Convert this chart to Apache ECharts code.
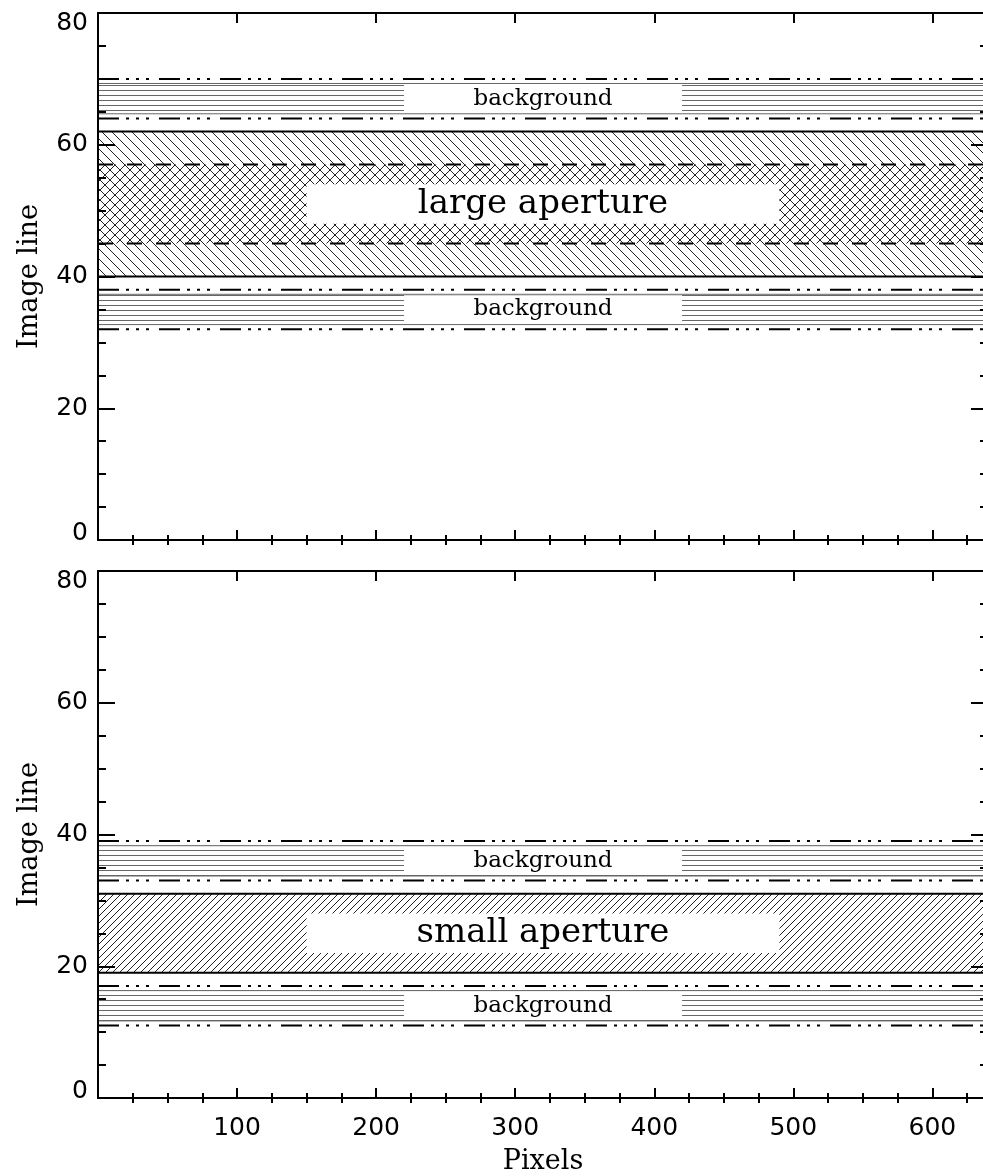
<!DOCTYPE html>
<html><head><meta charset="utf-8">
<script src="https://cdn.jsdelivr.net/npm/echarts@6/dist/echarts.min.js"></script>
<style>html,body{margin:0;padding:0;background:#fff}#chart{width:983px;height:1176px}</style>
</head><body><div id="chart"></div>
<script>
// ---------------- data ----------------
const xRange = [0, 640];
const yRange = [0, 80];
const xMajorTicks = [0, 100, 200, 300, 400, 500, 600];
const xTickLabels = [100, 200, 300, 400, 500, 600];
const yTickLabels = [0, 20, 40, 60, 80];

const topBackground = [[32, 38], [64, 70]];
const topAperture = [[40, 62]];
const topApertureCore = [[45, 57]];
const topApertureName = 'large aperture';

const bottomBackground = [[11, 17], [33, 39]];
const bottomAperture = [[19, 31]];
const bottomApertureName = 'small aperture';
const backgroundName = 'background';

const xTitle = 'Pixels';
const yTitle = 'Image line';

// ---------------- layout / style ----------------
const apertureBoxX = [150, 490];
const apertureBoxHalf = 3;
const backgroundBoxX = [220, 420];
const backgroundInset = 0.7;
const xMinorTicks = [];
xMajorTicks.forEach(m => [25, 50, 75].forEach(o => { if (m + o < xRange[1]) xMinorTicks.push(m + o); }));

const DASH_DOT3 = [21, 7, 3, 7, 3, 7, 3, 10];
const DASH = [15, 14];
const SERIF = 'DejaVu Serif';
const SANS = 'DejaVu Sans';

function makePattern(kind, size, color, width) {
  const c = document.createElement('canvas');
  c.width = size; c.height = size;
  const ctx = c.getContext('2d');
  ctx.strokeStyle = color; ctx.lineWidth = width;
  ctx.beginPath();
  if (kind === 'h') {
    ctx.moveTo(0, 0.5); ctx.lineTo(size, 0.5);
  } else if (kind === 'b') {
    for (let k = -1; k <= 1; k++) { ctx.moveTo(k * size, 0); ctx.lineTo(k * size + size, size); }
  } else {
    for (let k = -1; k <= 1; k++) { ctx.moveTo(k * size, size); ctx.lineTo(k * size + size, 0); }
  }
  ctx.stroke();
  return { image: c, repeat: 'repeat' };
}
const PAT = {
  horiz: makePattern('h', 5, '#666', 1),
  back: makePattern('b', 10, '#222', 1),
  fwd: makePattern('f', 10, '#222', 1),
  fwdSmall: makePattern('f', 7, '#222', 1)
};

function hline(api, y, x0, x1, stroke, width, dash) {
  const a = api.coord([x0, y]), b = api.coord([x1, y]);
  return { type: 'line', shape: { x1: a[0], y1: a[1], x2: b[0], y2: b[1] },
    style: { stroke: stroke, lineWidth: width, lineDash: dash || null } };
}
function band(api, lo, hi, x0, x1, fill) {
  const a = api.coord([x0, hi]), b = api.coord([x1, lo]);
  return { type: 'rect', shape: { x: a[0], y: a[1], width: b[0] - a[0], height: b[1] - a[1] }, style: { fill: fill } };
}

function renderBackground(params, api) {
  const lo = api.value(0), hi = api.value(1);
  const inLo = lo + backgroundInset, inHi = hi - backgroundInset;
  const a = api.coord([backgroundBoxX[0], inHi]), b = api.coord([backgroundBoxX[1], inLo]);
  const mid = api.coord([(backgroundBoxX[0] + backgroundBoxX[1]) / 2, (lo + hi) / 2]);
  return { type: 'group', children: [
    band(api, inLo, inHi, xRange[0], xRange[1], PAT.horiz),
    { type: 'rect', shape: { x: a[0], y: a[1] + 1, width: b[0] - a[0], height: b[1] - a[1] - 2 }, style: { fill: '#fff' } },
    hline(api, inHi, xRange[0], xRange[1], '#666', 1),
    hline(api, inLo, xRange[0], xRange[1], '#666', 1),
    hline(api, hi, xRange[0], xRange[1], '#000', 2, DASH_DOT3),
    hline(api, lo, xRange[0], xRange[1], '#000', 2, DASH_DOT3),
    { type: 'text', x: mid[0], y: mid[1], style: { text: backgroundName, fontFamily: SERIF, fontSize: 23,
      fill: '#000', align: 'center', verticalAlign: 'middle' } }
  ] };
}
function makeApertureRenderer(pattern) {
  return function (params, api) {
    return { type: 'group', children: [band(api, api.value(0), api.value(1), xRange[0], xRange[1], pattern)] };
  };
}
function renderCore(params, api) {
  const lo = api.value(0), hi = api.value(1);
  return { type: 'group', children: [
    band(api, lo, hi, xRange[0], xRange[1], PAT.fwd),
    hline(api, hi, xRange[0], xRange[1], '#000', 2, DASH),
    hline(api, lo, xRange[0], xRange[1], '#000', 2, DASH)
  ] };
}
function makeLabelRenderer(label) {
  return function (params, api) {
    const lo = api.value(0), hi = api.value(1), c = (lo + hi) / 2;
    const a = api.coord([apertureBoxX[0], c + apertureBoxHalf]), b = api.coord([apertureBoxX[1], c - apertureBoxHalf]);
    const mid = api.coord([(apertureBoxX[0] + apertureBoxX[1]) / 2, c]);
    return { type: 'group', children: [
      { type: 'rect', shape: { x: a[0], y: a[1], width: b[0] - a[0], height: b[1] - a[1] }, style: { fill: '#fff' } },
      { type: 'text', x: mid[0], y: mid[1], style: { text: label, fontFamily: SERIF, fontSize: 34,
        fill: '#000', align: 'center', verticalAlign: 'middle' } },
      hline(api, hi, xRange[0], xRange[1], '#000', 2),
      hline(api, lo, xRange[0], xRange[1], '#000', 2)
    ] };
  };
}

// ---------------- axes ----------------
const AX = '#000';
const axisLine = { show: true, onZero: false, lineStyle: { color: AX, width: 2 } };
const labelFont = { color: '#000', fontFamily: SANS, fontSize: 25 };
function xAxisSet(gridIndex, withLabels) {
  const base = { type: 'value', gridIndex: gridIndex, min: xRange[0], max: xRange[1], splitLine: { show: false }, z: 10 };
  const major = { show: true, inside: true, length: 10, lineStyle: { color: AX, width: 2 }, customValues: xMajorTicks };
  const minor = { show: true, inside: true, length: 5, lineStyle: { color: AX, width: 2 }, customValues: xMinorTicks };
  return [
    Object.assign({}, base, { position: 'bottom', axisLine: axisLine, axisTick: major,
      axisLabel: withLabels ? Object.assign({ show: true, customValues: xTickLabels, margin: 18 }, labelFont) : { show: false },
      name: withLabels ? xTitle : '', nameLocation: 'middle', nameGap: 50,
      nameTextStyle: { fontFamily: SERIF, fontSize: 27, color: '#000' } }),
    Object.assign({}, base, { position: 'bottom', axisLine: { show: false }, axisTick: minor, axisLabel: { show: false } }),
    Object.assign({}, base, { position: 'top', axisLine: axisLine, axisTick: major, axisLabel: { show: false } }),
    Object.assign({}, base, { position: 'top', axisLine: { show: false }, axisTick: minor, axisLabel: { show: false } })
  ];
}
function yAxisSet(gridIndex) {
  const base = { type: 'value', gridIndex: gridIndex, min: yRange[0], max: yRange[1], interval: 20,
    splitLine: { show: false }, z: 10, axisLine: axisLine,
    axisTick: { show: true, inside: true, length: 17, lineStyle: { color: AX, width: 2 } },
    minorTick: { show: true, splitNumber: 4, length: 8, lineStyle: { color: AX, width: 2 } } };
  return [
    Object.assign({}, base, { position: 'left',
      axisLabel: Object.assign({ show: true, customValues: yTickLabels, margin: 10,
        formatter: function (v) {
          if (v === yRange[0]) return '{lo|' + v + '}';
          if (v === yRange[1]) return '{hi|' + v + '}';
          return String(v);
        },
        rich: {
          lo: Object.assign({ padding: [0, 0, 14, 0] }, labelFont),
          hi: Object.assign({ padding: [21, 0, 0, 0] }, labelFont)
        } }, labelFont),
      name: yTitle, nameLocation: 'middle', nameRotate: 90, nameGap: 55,
      nameTextStyle: { fontFamily: SERIF, fontSize: 27, color: '#000' } }),
    Object.assign({}, base, { position: 'right', axisLabel: { show: false } })
  ];
}

function customSeries(xi, yi, data, renderItem, z) {
  return { type: 'custom', xAxisIndex: xi, yAxisIndex: yi, data: data, renderItem: renderItem,
    clip: true, silent: true, z: z, animation: false };
}

const option = {
  animation: false,
  backgroundColor: '#fff',
  grid: [
    { left: 98, top: 13, width: 890, height: 527, outerBoundsMode: 'none', containLabel: false },
    { left: 98, top: 571, width: 890, height: 527, outerBoundsMode: 'none', containLabel: false }
  ],
  xAxis: xAxisSet(0, false).concat(xAxisSet(1, true)),
  yAxis: yAxisSet(0).concat(yAxisSet(1)),
  series: [
    customSeries(0, 0, topAperture, makeApertureRenderer(PAT.back), 2),
    customSeries(0, 0, topApertureCore, renderCore, 3),
    customSeries(0, 0, topAperture, makeLabelRenderer(topApertureName), 4),
    customSeries(0, 0, topBackground, renderBackground, 4),
    customSeries(4, 2, bottomAperture, makeApertureRenderer(PAT.fwdSmall), 2),
    customSeries(4, 2, bottomAperture, makeLabelRenderer(bottomApertureName), 4),
    customSeries(4, 2, bottomBackground, renderBackground, 4)
  ]
};
const chart = echarts.init(document.getElementById('chart'));
chart.setOption(option);
</script></body></html>
